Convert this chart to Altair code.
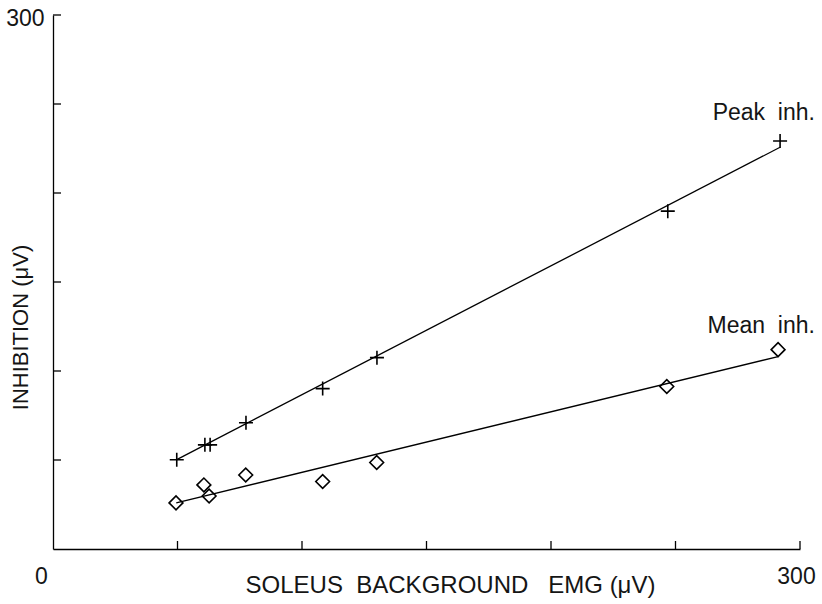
import altair as alt
import pandas as pd

FONT = "Liberation Sans"
INK = "#151515"

x_title = "SOLEUS\u00a0 BACKGROUND\u00a0\u00a0 EMG (\u03bcV)"
y_title = "INHIBITION (\u03bcV)"

# Peak inhibition (+)
emg_peak = [49.7, 61.0, 63.1, 77.5, 108.3, 130.1, 246.9, 292.0]
peak_inh = [50.1, 58.5, 58.5, 70.9, 90.1, 107.5, 189.8, 229.2]
# Mean inhibition (diamonds)
emg_mean = [49.4, 60.6, 62.7, 77.4, 108.3, 130.0, 246.5, 291.2]
mean_inh = [25.9, 36.0, 29.8, 41.6, 37.9, 48.6, 91.3, 112.0]

# fitted regression lines (end points)
peak_fit_x = [49.5, 292.0]
peak_fit_y = [50.1, 225.7]
mean_fit_x = [49.5, 291.2]
mean_fit_y = [25.9, 108.1]

# line labels
labels = ["Peak\u00a0 inh.", "Mean\u00a0 inh."]
label_x = [306, 306]
label_y = [245, 125.5]

x_ticks = [50, 100, 150, 200, 250, 300]
y_ticks = [50, 100, 150, 200, 250, 300]

W, H = 747, 534

fits = pd.DataFrame({
    "x": peak_fit_x + mean_fit_x,
    "y": peak_fit_y + mean_fit_y,
    "series": ["peak"] * 2 + ["mean"] * 2,
})
peak_df = pd.DataFrame({"x": emg_peak, "y": peak_inh})
mean_df = pd.DataFrame({"x": emg_mean, "y": mean_inh})
lab_df = pd.DataFrame({"x": label_x, "y": label_y, "label": labels})
xt_df = pd.DataFrame({"x": x_ticks})
yt_df = pd.DataFrame({"y": y_ticks})

xscale = alt.Scale(domain=[0, 300], nice=False, zero=False)
yscale = alt.Scale(domain=[0, 300], nice=False, zero=False)

xaxis = alt.Axis(
    values=[0, 300], title=x_title, grid=False, ticks=False, tickSize=0,
    domainColor="black", domainWidth=1.3,
    labelFont=FONT, labelFontSize=23, labelColor=INK, labelPadding=27,
    labelBaseline="middle", labelFlush=False, labelOverlap=False, labelBound=False,
    labelOffset={"condition": {"test": "datum.value == 0", "value": -12}, "value": -4},
    titleFont=FONT, titleFontSize=24, titleFontWeight="normal", titleColor=INK,
    titleX=397, titleY=36, titleAlign="center", titleBaseline="middle",
)
yaxis = alt.Axis(
    values=[300], title=y_title, grid=False, ticks=False, tickSize=0,
    domainColor="black", domainWidth=1.3,
    labelFont=FONT, labelFontSize=23, labelColor=INK, labelPadding=9,
    labelBaseline="middle", labelAlign="right", labelFlush=False, labelOffset=3,
    labelOverlap=False, labelBound=False,
    titleFont=FONT, titleFontSize=22, titleFontWeight="normal", titleColor=INK,
    titleX=-33, titleY=312, titleAngle=270, titleAlign="center", titleBaseline="middle",
)

X = alt.X("x:Q", scale=xscale, axis=xaxis)
Y = alt.Y("y:Q", scale=yscale, axis=yaxis)

lines = alt.Chart(fits).mark_line(color="black", strokeWidth=1.3).encode(
    x=X, y=Y, detail="series:N"
)

plus = alt.Chart(peak_df).mark_point(
    shape="M-1,0L1,0M0,-1L0,1", size=196, filled=False, color="black",
    strokeWidth=1.6, opacity=1
).encode(x=X, y=Y)

diam = alt.Chart(mean_df).mark_point(
    shape="diamond", size=190, filled=False, color="black",
    strokeWidth=1.6, opacity=1
).encode(x=X, y=Y)

xticks = alt.Chart(xt_df).mark_rule(color="black", strokeWidth=1.3).encode(
    x=X, y=alt.value(H), y2=alt.value(H - 8)
)
yticks = alt.Chart(yt_df).mark_rule(color="black", strokeWidth=1.3).encode(
    y=Y, x=alt.value(0), x2=alt.value(8)
)

texts = alt.Chart(lab_df).mark_text(
    align="right", baseline="middle", font=FONT, fontSize=23, color=INK
).encode(x=X, y=Y, text="label:N")

chart = alt.layer(lines, plus, diam, xticks, yticks, texts).properties(
    width=W, height=H,
    autosize=alt.AutoSizeParams(type="none"),
    padding={"left": 53, "top": 15, "right": 22, "bottom": 55},
    background="white",
).configure_view(stroke=None)

chart.save("out.html", embed_options={"renderer": "svg", "actions": False})
